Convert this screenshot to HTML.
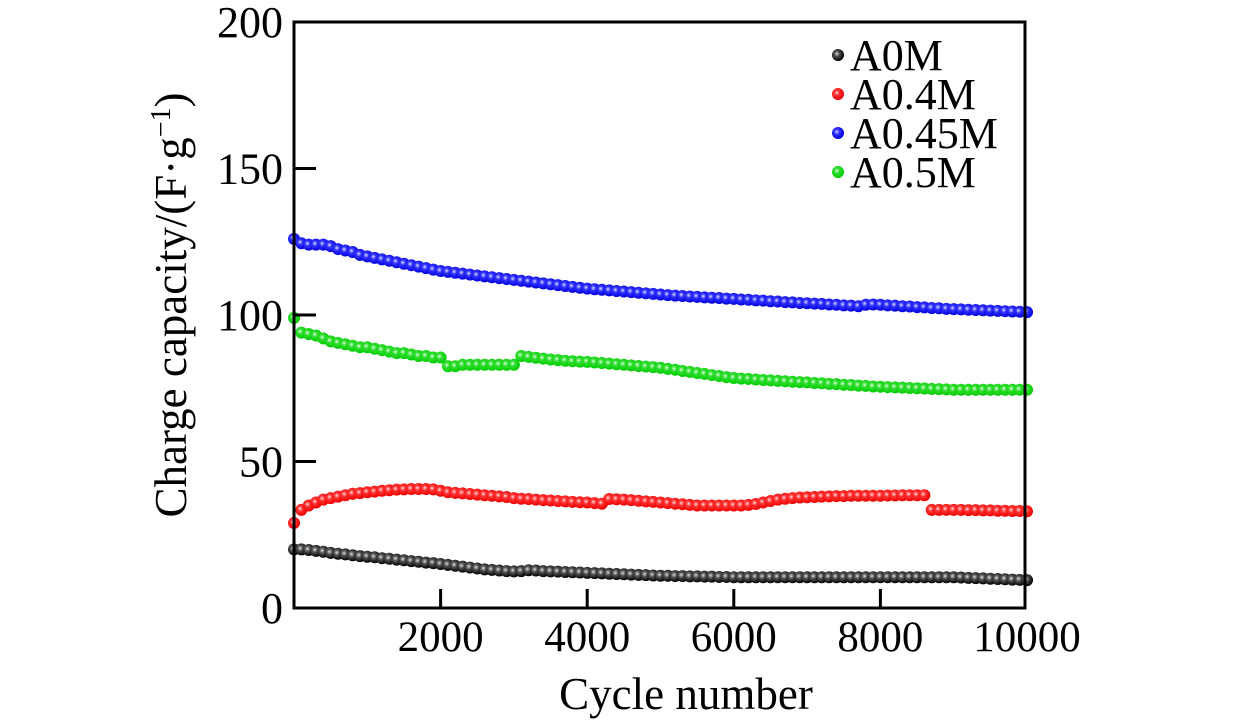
<!DOCTYPE html>
<html><head><meta charset="utf-8"><style>
html,body{margin:0;padding:0;background:#fff;}
svg{display:block;font-family:"Liberation Serif",serif;}
</style></head><body>
<svg id="chart" width="1260" height="724" viewBox="0 0 1260 724">
<defs>
<radialGradient id="g-black" cx="0.4" cy="0.4" r="0.6"><stop offset="0" stop-color="#ddd"/><stop offset="0.35" stop-color="#555"/><stop offset="1" stop-color="#000"/></radialGradient>
<radialGradient id="g-red" cx="0.4" cy="0.4" r="0.6"><stop offset="0" stop-color="#fdd"/><stop offset="0.35" stop-color="#f33"/><stop offset="1" stop-color="#e00"/></radialGradient>
<radialGradient id="g-blue" cx="0.4" cy="0.4" r="0.6"><stop offset="0" stop-color="#ddf"/><stop offset="0.35" stop-color="#33f"/><stop offset="1" stop-color="#00d"/></radialGradient>
<radialGradient id="g-green" cx="0.4" cy="0.4" r="0.6"><stop offset="0" stop-color="#dfd"/><stop offset="0.35" stop-color="#3d3"/><stop offset="1" stop-color="#0c0"/></radialGradient>
</defs>
<g id="marks"></g>
<g id="axes"></g>
<text x="186" y="305" font-size="45" text-anchor="middle" transform="rotate(-90 186 305)">Charge capacity/(F·g<tspan dy="-16" font-size="28">−1</tspan><tspan dy="16">)</tspan></text>
<text x="686" y="709" font-size="45" text-anchor="middle">Cycle number</text>
<g>
<g><circle cx="838" cy="55" r="6" fill="url(#g-black)"/><text x="850" y="70" font-size="44">A0M</text></g>
<g><circle cx="838" cy="94" r="6" fill="url(#g-red)"/><text x="850" y="109" font-size="44">A0.4M</text></g>
<g><circle cx="838" cy="133" r="6" fill="url(#g-blue)"/><text x="850" y="148" font-size="44">A0.45M</text></g>
<g><circle cx="838" cy="172" r="6" fill="url(#g-green)"/><text x="850" y="187" font-size="44">A0.5M</text></g>
</g>
</svg>
<script>
const cycleStep = 100;
const xTicks = [2000, 4000, 6000, 8000, 10000];
const yTicks = [0, 50, 100, 150, 200];
const seriesNames = ["A0M", "A0.4M", "A0.45M", "A0.5M"];
const a0m = [20,20,19.8,19.5,19.2,18.8,18.5,18.3,18,17.7,17.5,17.3,17,16.8,16.5,16.3,16,15.8,15.5,15.3,15,14.7,14.4,14.1,13.8,13.5,13.2,13,12.8,12.6,12.5,12.6,12.9,12.8,12.6,12.5,12.4,12.3,12.2,12.1,12,11.9,11.8,11.7,11.6,11.5,11.4,11.3,11.2,11.1,11,11,10.9,10.9,10.8,10.8,10.7,10.7,10.6,10.6,10.5,10.5,10.5,10.5,10.5,10.5,10.5,10.5,10.5,10.5,10.5,10.5,10.5,10.5,10.5,10.5,10.5,10.5,10.5,10.5,10.5,10.5,10.5,10.5,10.5,10.5,10.5,10.5,10.5,10.5,10.5,10.4,10.3,10.2,10.1,10,9.9,9.8,9.7,9.6,9.5];
const a04m = [29,33.5,35,36,37,37.5,38,38.5,39,39.2,39.5,39.7,40,40.2,40.4,40.5,40.6,40.6,40.6,40.5,40,39.5,39.3,39.1,38.9,38.7,38.5,38.3,38.1,37.9,37.5,37.3,37.2,37,36.8,36.7,36.5,36.4,36.2,36.1,36,35.8,35.6,37.2,37.1,37,36.8,36.6,36.4,36.2,36,35.8,35.6,35.4,35.2,35,35,35,35,35,35,35,35.2,35.5,36,36.5,37,37.3,37.5,37.7,37.8,37.9,38,38.1,38.2,38.2,38.3,38.3,38.3,38.3,38.3,38.4,38.4,38.5,38.5,38.5,38.5,33.5,33.5,33.5,33.5,33.5,33.4,33.4,33.3,33.3,33.2,33.2,33.1,33.1,33];
const a045m = [126,124.5,124,124,124,123.5,122.5,122,121.5,120.5,120,119.5,119,118.5,118,117.5,117,116.5,116,115.5,115,114.7,114.4,114.1,113.8,113.5,113.2,112.9,112.6,112.3,112,111.7,111.4,111.1,110.8,110.5,110.2,109.9,109.6,109.3,109,108.8,108.6,108.4,108.2,108,107.8,107.6,107.4,107.2,107,106.8,106.6,106.5,106.3,106.2,106,105.9,105.8,105.6,105.5,105.3,105.2,105,104.9,104.7,104.6,104.4,104.3,104.1,104,103.9,103.8,103.6,103.5,103.3,103.2,103,103.5,103.6,103.5,103.3,103.2,103,102.9,102.7,102.6,102.4,102.3,102.1,102,101.9,101.8,101.7,101.6,101.5,101.4,101.3,101.2,101.1,101];
const a05m = [99,94,93.5,93,92,91,90.5,90,89.5,89,89,88.5,88,87.5,87,87,86.5,86,86,85.5,85.5,82.5,82.5,83,83,83,83,83,83,83,83,86,85.7,85.4,85.1,84.8,84.6,84.4,84.2,84.1,84,83.8,83.6,83.4,83.2,83,82.8,82.6,82.4,82.2,82,81.6,81.3,80.9,80.6,80.2,79.9,79.5,79.2,78.8,78.5,78.3,78.2,78,77.8,77.7,77.5,77.4,77.2,77.1,77,76.8,76.7,76.5,76.4,76.2,76.1,75.9,75.8,75.6,75.5,75.4,75.3,75.2,75.1,75,74.9,74.8,74.7,74.6,74.5,74.5,74.5,74.5,74.5,74.5,74.5,74.5,74.5,74.5,74.5];

const NS = "http://www.w3.org/2000/svg";
const X0 = 294, X1 = 1027, YB = 608, YT = 22;
function xs(v){ return X0 + (v/10000)*(X1-X0); }
function ys(v){ return YB - (v/200)*(YB-YT); }
function mk(tag, attrs, parent){ const e=document.createElementNS(NS,tag); for(const k in attrs) e.setAttribute(k,attrs[k]); parent.appendChild(e); return e; }

const marks = document.getElementById("marks");
const seriesData = [a0m, a04m, a045m, a05m];
const seriesFill = ["url(#g-black)","url(#g-red)","url(#g-blue)","url(#g-green)"];
const seriesKey = ["a0m","a04m","a045m","a05m"];
seriesData.forEach((arr, si) => {
  const g = mk("g", {}, marks);
  
  
  arr.forEach((v, i) => {
    const c = mk("circle", {cx: xs(i*cycleStep), cy: ys(v), r: 6, fill: seriesFill[si]}, g);
    
    
  });
});

const axes = document.getElementById("axes");
const frame = mk("rect", {x: X0, y: YT, width: 1025-X0, height: YB-YT, fill: "none", stroke: "#000", "stroke-width": 3}, axes);


yTicks.forEach(t => {
  const y = ys(t);
  if (t > 0 && t < 200) {
    const l = mk("line", {x1: X0, x2: X0+22, y1: y, y2: y, stroke: "#000", "stroke-width": 3}, axes);
    
    
  }
  const tx = mk("text", {x: 283, y: y+15, "font-size": 44, "text-anchor": "end"}, axes);
  tx.textContent = t;
  
  
});
xTicks.forEach(t => {
  const x = xs(t);
  if (t < 10000) {
    const l = mk("line", {x1: x, x2: x, y1: YB, y2: YB-19, stroke: "#000", "stroke-width": 3}, axes);
    
    
  }
  const tx = mk("text", {x: x, y: 651, "font-size": 43, "text-anchor": "middle"}, axes);
  tx.textContent = t;
  
  
});
</script>
</body></html>
